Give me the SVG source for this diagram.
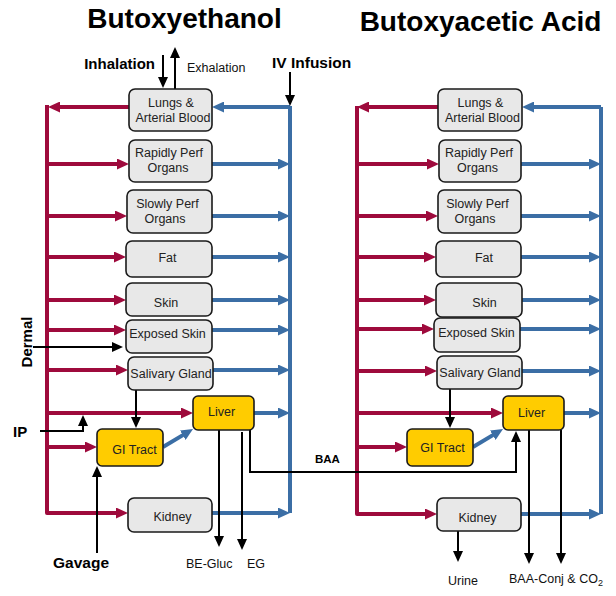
<svg xmlns="http://www.w3.org/2000/svg" width="616" height="596" viewBox="0 0 616 596">
<style>
text{font-family:"Liberation Sans",Arial,sans-serif;}
.box{fill:#e8e8e8;stroke:#1a1a1a;stroke-width:1.6;}
.ybox{fill:#ffcc00;stroke:#1a1a1a;stroke-width:1.6;}
.bt{font-size:12.5px;fill:#222;text-anchor:middle;}
.title{font-size:28px;font-weight:bold;fill:#000;text-anchor:middle;}
.lbl{font-size:15px;font-weight:bold;fill:#000;}
.sm{font-size:12.5px;fill:#111;}
.red{fill:none;stroke:#9e0a3c;stroke-width:4;stroke-linejoin:round;}
.blue{fill:none;stroke:#3b6ea5;stroke-width:4;stroke-linejoin:round;}
.blk{fill:none;stroke:#000;stroke-width:2;}
</style>
<defs>
<marker id="ar" markerUnits="userSpaceOnUse" markerWidth="12" markerHeight="11" refX="6" refY="5.5" orient="auto"><path d="M0,0 L12,5.5 L0,11 z" fill="#9e0a3c"/></marker>
<marker id="ab" markerUnits="userSpaceOnUse" markerWidth="12" markerHeight="11" refX="6" refY="5.5" orient="auto"><path d="M0,0 L12,5.5 L0,11 z" fill="#3b6ea5"/></marker>
<marker id="ak" markerUnits="userSpaceOnUse" markerWidth="11" markerHeight="10" refX="6" refY="5" orient="auto"><path d="M0,0 L11,5 L0,10 z" fill="#000"/></marker>
</defs>
<rect width="616" height="596" fill="#fff"/>

<g id="titles">
<text class="title" x="184.5" y="28">Butoxyethanol</text>
<text class="title" x="480.5" y="31">Butoxyacetic Acid</text>
</g>

<g id="connectors">
<!-- left red -->
<path class="red" d="M47,105 V513 H122" marker-end="url(#ar)"/>
<path class="red" d="M129,107 H54" marker-end="url(#ar)"/>
<path class="red" d="M47,164 H123" marker-end="url(#ar)"/>
<path class="red" d="M47,216 H121" marker-end="url(#ar)"/>
<path class="red" d="M47,257 H120" marker-end="url(#ar)"/>
<path class="red" d="M47,300 H120" marker-end="url(#ar)"/>
<path class="red" d="M47,330 H120" marker-end="url(#ar)"/>
<path class="red" d="M47,370 H122" marker-end="url(#ar)"/>
<path class="red" d="M47,413 H187" marker-end="url(#ar)"/>
<path class="red" d="M47,447 H91" marker-end="url(#ar)"/>
<!-- left blue -->
<path class="blue" d="M290,106 V513"/>
<path class="blue" d="M290,107 H218" marker-end="url(#ab)"/>
<path class="blue" d="M212,164 H284" marker-end="url(#ab)"/>
<path class="blue" d="M212,216 H284" marker-end="url(#ab)"/>
<path class="blue" d="M212,257 H284" marker-end="url(#ab)"/>
<path class="blue" d="M212,300 H284" marker-end="url(#ab)"/>
<path class="blue" d="M212,330 H284" marker-end="url(#ab)"/>
<path class="blue" d="M213,370 H284" marker-end="url(#ab)"/>
<path class="blue" d="M254,413 H284" marker-end="url(#ab)"/>
<path class="blue" d="M212,513 H284" marker-end="url(#ab)"/>
<path class="blue" d="M163,447 L187.9,432.1" marker-end="url(#ab)"/>
<!-- right red -->
<path class="red" d="M357,106 V514 H431" marker-end="url(#ar)"/>
<path class="red" d="M438,107 H363" marker-end="url(#ar)"/>
<path class="red" d="M357,164 H433" marker-end="url(#ar)"/>
<path class="red" d="M357,216 H432" marker-end="url(#ar)"/>
<path class="red" d="M357,257 H430" marker-end="url(#ar)"/>
<path class="red" d="M357,300 H430" marker-end="url(#ar)"/>
<path class="red" d="M357,329 H428" marker-end="url(#ar)"/>
<path class="red" d="M357,371 H431" marker-end="url(#ar)"/>
<path class="red" d="M357,413 H497" marker-end="url(#ar)"/>
<path class="red" d="M357,447 H401" marker-end="url(#ar)"/>
<!-- right blue -->
<path class="blue" d="M601,107 V514"/>
<path class="blue" d="M601,107 H528" marker-end="url(#ab)"/>
<path class="blue" d="M521,164 H595" marker-end="url(#ab)"/>
<path class="blue" d="M521,216 H595" marker-end="url(#ab)"/>
<path class="blue" d="M521,257 H595" marker-end="url(#ab)"/>
<path class="blue" d="M522,300 H595" marker-end="url(#ab)"/>
<path class="blue" d="M520,329 H595" marker-end="url(#ab)"/>
<path class="blue" d="M522,371 H595" marker-end="url(#ab)"/>
<path class="blue" d="M564,413 H595" marker-end="url(#ab)"/>
<path class="blue" d="M521,514 H595" marker-end="url(#ab)"/>
<path class="blue" d="M473,447 L497.9,432.1" marker-end="url(#ab)"/>
<!-- black -->
<path class="blk" d="M163,55 V83" marker-end="url(#ak)"/>
<path class="blk" d="M175,89 V52" marker-end="url(#ak)"/>
<path class="blk" d="M290,72 V101" marker-end="url(#ak)"/>
<path class="blk" d="M33,347 H118" marker-end="url(#ak)"/>
<path class="blk" d="M40,431 H83 V420" marker-end="url(#ak)"/>
<path class="blk" d="M136,390 V423" marker-end="url(#ak)"/>
<path class="blk" d="M97,553 V471" marker-end="url(#ak)"/>
<path class="blk" d="M219,430 V542" marker-end="url(#ak)"/>
<path class="blk" d="M242,432 V545" marker-end="url(#ak)"/>
<path class="blk" d="M250,430 V472 H516 V436" marker-end="url(#ak)"/>
<path class="blk" d="M450,389 V423" marker-end="url(#ak)"/>
<path class="blk" d="M458,531 V557" marker-end="url(#ak)"/>
<path class="blk" d="M529,430 V559" marker-end="url(#ak)"/>
<path class="blk" d="M561,430 V559" marker-end="url(#ak)"/>
</g>

<g id="labels">
<text class="lbl" x="155" y="69" text-anchor="end">Inhalation</text>
<text class="sm" x="187" y="72">Exhalation</text>
<text class="lbl" x="272" y="68" style="font-size:15.5px">IV Infusion</text>
<text class="lbl" transform="translate(32,342) rotate(-90)" text-anchor="middle">Dermal</text>
<text class="lbl" x="13" y="437">IP</text>
<text class="lbl" x="53" y="568" style="font-size:15.5px">Gavage</text>
<text class="sm" x="186" y="568">BE-Gluc</text>
<text class="sm" x="247" y="568">EG</text>
<text class="lbl" x="315" y="463" style="font-size:11.5px">BAA</text>
<text class="sm" x="448" y="585">Urine</text>
<text class="sm" x="509" y="583">BAA-Conj &amp; CO<tspan font-size="9" dy="3">2</tspan></text>
</g>

<!-- Left panel nodes -->
<g id="be-lungs"><rect class="box" x="129" y="89" width="83" height="42" rx="6"/><text class="bt" x="171" y="107">Lungs &amp;</text><text class="bt" x="173" y="122">Arterial Blood</text></g>
<g id="be-rapid"><rect class="box" x="129" y="140" width="83" height="42" rx="6"/><text class="bt" x="169" y="157">Rapidly Perf</text><text class="bt" x="168" y="172">Organs</text></g>
<g id="be-slow"><rect class="box" x="127" y="190" width="85" height="43" rx="6"/><text class="bt" x="167.5" y="208">Slowly Perf</text><text class="bt" x="165" y="223">Organs</text></g>
<g id="be-fat"><rect class="box" x="126" y="241" width="86" height="36" rx="6"/><text class="bt" x="167.5" y="262">Fat</text></g>
<g id="be-skin"><rect class="box" x="126" y="283" width="86" height="33" rx="6"/><text class="bt" x="166" y="307">Skin</text></g>
<g id="be-exposed"><rect class="box" x="126" y="320" width="86" height="33" rx="6"/><text class="bt" x="167.5" y="338">Exposed Skin</text></g>
<g id="be-salivary"><rect class="box" x="128" y="357" width="85" height="33" rx="6"/><text class="bt" x="171" y="378">Salivary Gland</text></g>
<g id="be-liver"><rect class="ybox" x="193" y="396" width="61" height="34" rx="5"/><text class="bt" x="221.5" y="416">Liver</text></g>
<g id="be-gi"><rect class="ybox" x="97" y="429" width="66" height="37" rx="5"/><text class="bt" x="134.5" y="454">GI Tract</text></g>
<g id="be-kidney"><rect class="box" x="128" y="498" width="84" height="34" rx="6"/><text class="bt" x="172.5" y="521">Kidney</text></g>

<!-- Right panel nodes -->
<g id="baa-lungs"><rect class="box" x="438" y="89" width="84" height="42" rx="6"/><text class="bt" x="480.5" y="107">Lungs &amp;</text><text class="bt" x="482.5" y="122">Arterial Blood</text></g>
<g id="baa-rapid"><rect class="box" x="439" y="140" width="82" height="42" rx="6"/><text class="bt" x="479" y="157">Rapidly Perf</text><text class="bt" x="477.5" y="172">Organs</text></g>
<g id="baa-slow"><rect class="box" x="438" y="190" width="83" height="43" rx="6"/><text class="bt" x="477.5" y="208">Slowly Perf</text><text class="bt" x="475" y="223">Organs</text></g>
<g id="baa-fat"><rect class="box" x="436" y="241" width="85" height="36" rx="6"/><text class="bt" x="484" y="262">Fat</text></g>
<g id="baa-skin"><rect class="box" x="436" y="283" width="86" height="34" rx="6"/><text class="bt" x="484.5" y="307">Skin</text></g>
<g id="baa-exposed"><rect class="box" x="434" y="318" width="86" height="34" rx="6"/><text class="bt" x="476.5" y="337">Exposed Skin</text></g>
<g id="baa-salivary"><rect class="box" x="437" y="356" width="85" height="33" rx="6"/><text class="bt" x="480" y="377">Salivary Gland</text></g>
<g id="baa-liver"><rect class="ybox" x="503" y="396" width="61" height="34" rx="5"/><text class="bt" x="531.5" y="417">Liver</text></g>
<g id="baa-gi"><rect class="ybox" x="407" y="429" width="66" height="37" rx="5"/><text class="bt" x="442.5" y="452">GI Tract</text></g>
<g id="baa-kidney"><rect class="box" x="437" y="498" width="84" height="33" rx="6"/><text class="bt" x="477.5" y="522">Kidney</text></g>
</svg>
